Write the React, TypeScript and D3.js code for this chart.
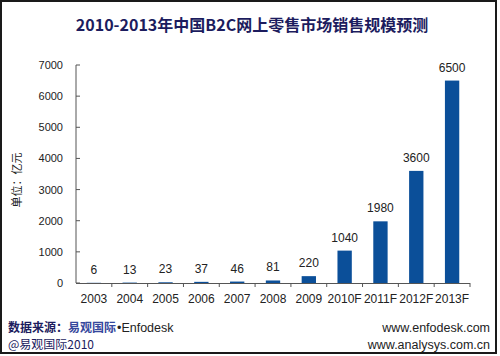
import React from "react";
import * as d3 from "d3";

const categories = ["2003", "2004", "2005", "2006", "2007", "2008", "2009", "2010F", "2011F", "2012F", "2013F"];
const values = [6, 13, 23, 37, 46, 81, 220, 1040, 1980, 3600, 6500];
const yTicks = [0, 1000, 2000, 3000, 4000, 5000, 6000, 7000];

const W = 500;
const H = 356;

export default function App() {
  const x = d3.scaleBand<string>().domain(categories).range([76, 470]).paddingInner(0.6).paddingOuter(0.3);
  const xb = d3.scaleBand<string>().domain(categories).range([76, 470]);
  const y = d3.scaleLinear().domain([0, 7000]).range([283, 65]);
  const font = "Arial, 'Liberation Sans', 'Noto Sans CJK SC', sans-serif";
  const cjk = "'Noto Sans CJK SC', 'Liberation Sans', sans-serif";
  return (
    <svg width={W} height={H} style={{ position: "absolute", left: 0, top: 0, background: "#fff" }}>
      <rect x={0} y={0} width={W} height={H} fill="#fff" />
      <rect x={1} y={1} width={495} height={352} fill="none" stroke="#1a1a1a" strokeWidth={2} />
      <text x={252} y={31} textAnchor="middle" fontFamily={cjk} fontWeight="bold" fontSize={16} fill="#1c1c5e">
        2010-2013年中国B2C网上零售市场销售规模预测
      </text>
      {/* y axis */}
      <line x1={76} x2={76} y1={y(7000)} y2={y(0)} stroke="#555" strokeWidth={1} />
      {yTicks.map((t) => (
        <g key={t}>
          <line x1={76} x2={80} y1={y(t)} y2={y(t)} stroke="#555" />
          <text x={63} y={y(t) + 4} textAnchor="end" fontFamily={font} fontSize={11} fill="#222">
            {t}
          </text>
        </g>
      ))}
      <text
        transform={`translate(21,180) rotate(-90)`}
        textAnchor="middle"
        fontFamily={cjk}
        fontSize={11}
        fill="#222"
      >
        单位：亿元
      </text>
      {/* x axis */}
      <line x1={76} x2={470} y1={283.5} y2={283.5} stroke="#555" strokeWidth={1.2} />
      {categories.map((c) => (
        <line key={"t" + c} x1={(xb(c) as number) + xb.bandwidth()} x2={(xb(c) as number) + xb.bandwidth()} y1={283} y2={287} stroke="#555" />
      ))}
      {categories.map((c, i) => (
        <g key={c}>
          <rect x={x(c)} y={y(values[i])} width={x.bandwidth()} height={y(0) - y(values[i])} fill="#0b4f99" />
          <text
            x={(x(c) as number) + x.bandwidth() / 2}
            y={y(values[i]) - 9}
            textAnchor="middle"
            fontFamily={font}
            fontSize={12}
            fill="#222"
          >
            {values[i]}
          </text>
          <text
            x={(xb(c) as number) + xb.bandwidth() / 2}
            y={303}
            textAnchor="middle"
            fontFamily={font}
            fontSize={12}
            fill="#222"
          >
            {c}
          </text>
        </g>
      ))}
      {/* footer */}
      <text x={8} y={332} fontFamily={cjk} fontSize={12} fontWeight="bold" fill="#1c1c5e">
        数据来源：
      </text>
      <text x={68} y={332} fontFamily={cjk} fontSize={12} fontWeight="bold" fill="#35479c">
        易观国际
      </text>
      <text x={117} y={332} fontFamily={font} fontSize={12.5} fill="#222">
        •Enfodesk
      </text>
      <text x={8} y={349} fontFamily={cjk} fontSize={12} fill="#1c1c5e">
        @易观国际2010
      </text>
      <text x={490} y={332} textAnchor="end" fontFamily={font} fontSize={12.5} fill="#222">
        www.enfodesk.com
      </text>
      <text x={490} y={349} textAnchor="end" fontFamily={font} fontSize={12.5} fill="#222">
        www.analysys.com.cn
      </text>
    </svg>
  );
}
